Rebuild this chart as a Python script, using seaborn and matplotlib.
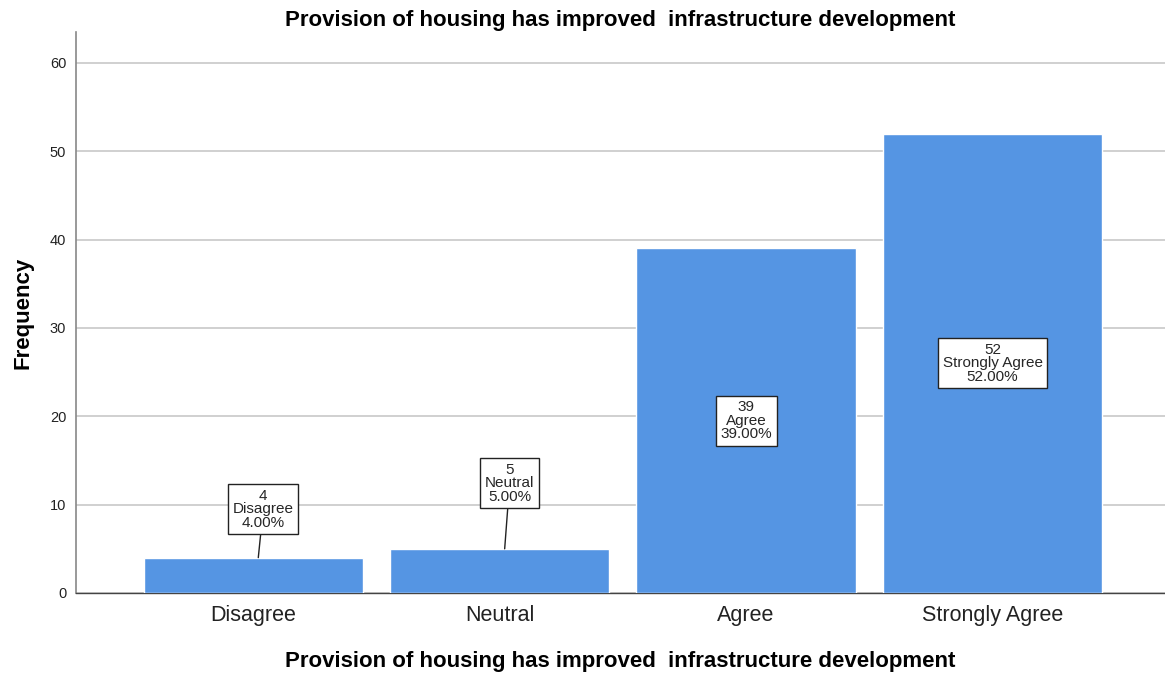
import pandas as pd
import seaborn as sns
import matplotlib.pyplot as plt

# Datos del grafico
categorias = ["Disagree", "Neutral", "Agree", "Strongly Agree"]
frecuencias = [4, 5, 39, 52]
porcentajes = [4.00, 5.00, 39.00, 52.00]
titulo = "Provision of housing has improved  infrastructure development"

df = pd.DataFrame({"categoria": categorias, "frecuencia": frecuencias})

sns.set_style("white")
plt.rcParams["font.family"] = ["Liberation Sans", "DejaVu Sans"]

fig = plt.figure(figsize=(11.65, 6.75), dpi=100)
ax = fig.add_axes([0.0652, 0.1215, 0.9348, 0.8311])

sns.barplot(data=df, x="categoria", y="frecuencia", color="#5595E3",
            width=0.89, saturation=1, ax=ax, zorder=3)

ax.set_ylim(0, 63.5)
ax.set_xlim(-0.72, 3.70)
ax.set_yticks(range(0, 61, 10))
ax.yaxis.grid(True, color="#C8C8C8", linewidth=1.2, zorder=0)
ax.set_axisbelow(True)

for lado in ["top", "right"]:
    ax.spines[lado].set_visible(False)
ax.spines["left"].set_color("#888888")
ax.spines["left"].set_linewidth(1.2)
ax.spines["bottom"].set_color("#444444")
ax.spines["bottom"].set_linewidth(1.0)

ax.tick_params(axis="x", labelsize=15.5, length=0, pad=9, colors="#222222")
ax.tick_params(axis="y", labelsize=10.5, length=0, pad=7, colors="#222222")

ax.set_title(titulo, fontsize=16, fontweight="bold", pad=4, color="black")
ax.set_xlabel(titulo, fontsize=16, fontweight="bold", labelpad=18, color="black")
ax.set_ylabel("Frequency", fontsize=16, fontweight="bold", labelpad=12, color="black")

# Etiquetas de cada barra
caja = dict(boxstyle="square,pad=0.3", facecolor="white", edgecolor="#222222", linewidth=1)
for i, (cat, f, p) in enumerate(zip(categorias, frecuencias, porcentajes)):
    texto = f"{f}\n{cat}\n{p:.2f}%"
    if f < 10:
        # etiqueta encima con linea guia
        ax.annotate(texto, xy=(i + 0.02, f), xytext=(i + 0.04, f + 5.5 + (f - 4) * 1.9),
                    ha="center", va="center", fontsize=11, linespacing=0.95,
                    bbox=caja, zorder=5,
                    arrowprops=dict(arrowstyle="-", color="#222222", lw=1, shrinkA=0, shrinkB=0))
    else:
        ax.text(i, f / 2, texto, ha="center", va="center", fontsize=11,
                linespacing=0.95, bbox=caja, zorder=5)

fig.savefig("out.png", dpi=100)
